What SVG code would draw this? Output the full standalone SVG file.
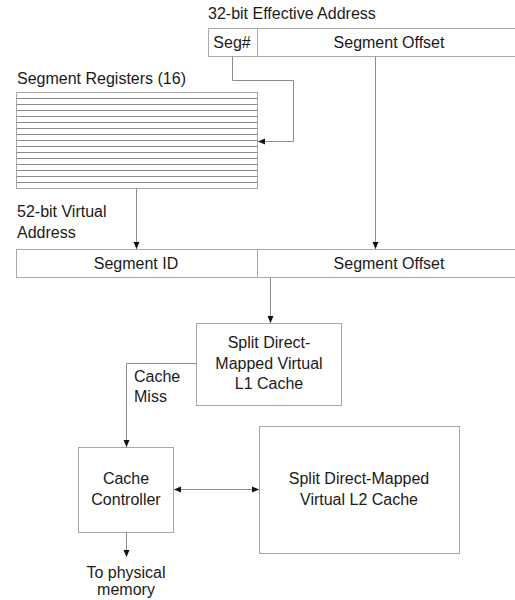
<svg xmlns="http://www.w3.org/2000/svg" width="515" height="600" viewBox="0 0 515 600">
<style>
text{font-family:"Liberation Sans",Arial,sans-serif;font-size:16px;fill:#1a1a1a}
.c{text-anchor:middle}
.box{fill:#fff;stroke:#a8a8a8;stroke-width:1}
.reg{stroke:#8a8a8a;stroke-width:1}
.ln{fill:none;stroke:#8c8c8c;stroke-width:1}
</style>
<defs>
<marker id="ah" markerWidth="8" markerHeight="8" refX="7" refY="3.5" orient="auto" markerUnits="userSpaceOnUse">
<path d="M0,0.5 L7,3.5 L0,6.5 Z" fill="#111"/>
</marker>
<marker id="as" markerWidth="8" markerHeight="8" refX="0" refY="3.5" orient="auto" markerUnits="userSpaceOnUse">
<path d="M7,0.5 L0,3.5 L7,6.5 Z" fill="#111"/>
</marker>
</defs>
<rect width="515" height="600" fill="#fff"/>

<g id="effective-address">
<text x="208" y="19">32-bit Effective Address</text>
<rect class="box" x="208.5" y="28.5" width="310" height="28"/>
<line class="box" x1="257.5" y1="28.5" x2="257.5" y2="56.5"/>
<text class="c" x="232" y="48">Seg#</text>
<text class="c" x="389" y="48">Segment Offset</text>
</g>

<g id="segment-registers">
<text x="17" y="84">Segment Registers (16)</text>
<rect class="box" x="16.5" y="92.5" width="241" height="96"/>
<g class="reg">
<line x1="16.5" y1="98.5" x2="257.5" y2="98.5"/>
<line x1="16.5" y1="104.5" x2="257.5" y2="104.5"/>
<line x1="16.5" y1="110.5" x2="257.5" y2="110.5"/>
<line x1="16.5" y1="116.5" x2="257.5" y2="116.5"/>
<line x1="16.5" y1="122.5" x2="257.5" y2="122.5"/>
<line x1="16.5" y1="128.5" x2="257.5" y2="128.5"/>
<line x1="16.5" y1="134.5" x2="257.5" y2="134.5"/>
<line x1="16.5" y1="140.5" x2="257.5" y2="140.5"/>
<line x1="16.5" y1="146.5" x2="257.5" y2="146.5"/>
<line x1="16.5" y1="152.5" x2="257.5" y2="152.5"/>
<line x1="16.5" y1="158.5" x2="257.5" y2="158.5"/>
<line x1="16.5" y1="164.5" x2="257.5" y2="164.5"/>
<line x1="16.5" y1="170.5" x2="257.5" y2="170.5"/>
<line x1="16.5" y1="176.5" x2="257.5" y2="176.5"/>
<line x1="16.5" y1="182.5" x2="257.5" y2="182.5"/>
</g>
</g>

<g id="virtual-address">
<text x="17" y="217">52-bit Virtual</text>
<text x="17" y="238">Address</text>
<rect class="box" x="16.5" y="249.5" width="502" height="28"/>
<line class="box" x1="257.5" y1="249.5" x2="257.5" y2="277.5"/>
<text class="c" x="136" y="269">Segment ID</text>
<text class="c" x="389" y="269">Segment Offset</text>
</g>

<g id="l1-cache">
<rect class="box" x="196.5" y="323.5" width="145" height="82"/>
<text class="c" x="269" y="348">Split Direct-</text>
<text class="c" x="269" y="369">Mapped Virtual</text>
<text class="c" x="269" y="389">L1 Cache</text>
</g>

<g id="cache-controller">
<rect class="box" x="78.5" y="447.5" width="95" height="85"/>
<text class="c" x="126" y="484">Cache</text>
<text class="c" x="126" y="505">Controller</text>
</g>

<g id="l2-cache">
<rect class="box" x="259.5" y="426.5" width="200" height="127"/>
<text class="c" x="359" y="484">Split Direct-Mapped</text>
<text class="c" x="359" y="505">Virtual L2 Cache</text>
</g>

<g id="labels">
<text x="134" y="382">Cache</text>
<text x="134" y="402">Miss</text>
<text class="c" x="126" y="578">To physical</text>
<text class="c" x="126" y="595">memory</text>
</g>

<g id="connectors">
<polyline class="ln" points="232.5,56.5 232.5,80.5 293.5,80.5 293.5,141.5 258,141.5" marker-end="url(#ah)"/>
<line class="ln" x1="375.5" y1="56.5" x2="375.5" y2="249" marker-end="url(#ah)"/>
<line class="ln" x1="136.5" y1="188.5" x2="136.5" y2="249" marker-end="url(#ah)"/>
<line class="ln" x1="270.5" y1="277.5" x2="270.5" y2="323" marker-end="url(#ah)"/>
<polyline class="ln" points="196.5,363.5 126.5,363.5 126.5,447" marker-end="url(#ah)"/>
<line class="ln" x1="174" y1="489.5" x2="259" y2="489.5" marker-start="url(#as)" marker-end="url(#ah)"/>
<line class="ln" x1="126.5" y1="532.5" x2="126.5" y2="557" marker-end="url(#ah)"/>
</g>
</svg>
